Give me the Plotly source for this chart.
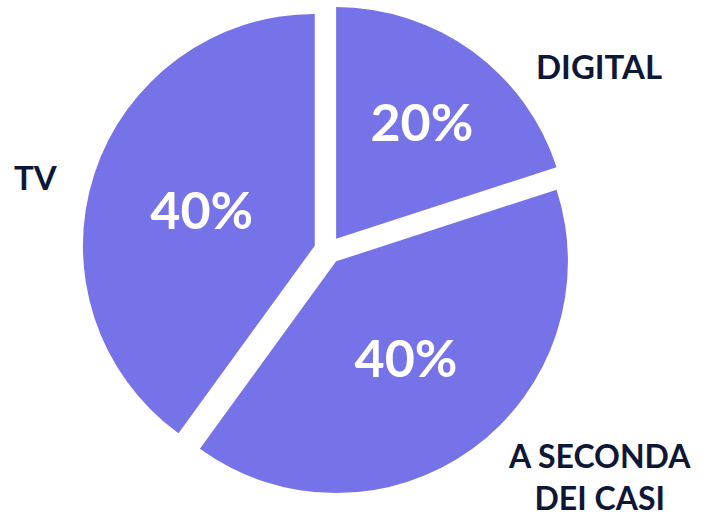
import plotly.graph_objects as go

labels = ["DIGITAL", "A SECONDA<br>DEI CASI", "TV"]
values = [20, 40, 40]
pulls = [0.06, 0.06, 0.06]

slice_color = "#7673E8"
label_color = "#0E1836"

fig = go.Figure(go.Pie(
    labels=labels,
    values=values,
    sort=False,
    direction="clockwise",
    rotation=0,
    pull=pulls,
    marker=dict(colors=[slice_color] * 3, line=dict(color="white", width=0)),
    textinfo="percent",
    texttemplate="%{percent:.0%}",
    textposition="inside",
    insidetextorientation="horizontal",
    textfont=dict(family="Lato", size=52, color="white", weight=700),
    domain=dict(x=[0.117, 0.816], y=[0.048, 0.992]),
    showlegend=False,
    hoverinfo="skip",
))

label_pos = [(0.852, 0.873), (0.853, 0.085), (0.051, 0.660)]
label_sizes = [33, 32, 33]
for lab, (x, y), sz in zip(labels, label_pos, label_sizes):
    fig.add_annotation(
        text=lab, x=x, y=y, xref="paper", yref="paper",
        showarrow=False, xanchor="center", yanchor="middle",
        font=dict(family="Lato", size=sz, color=label_color, weight=700),
        align="center",
    )

fig.update_layout(
    width=703, height=521,
    margin=dict(l=0, r=0, t=0, b=0),
    paper_bgcolor="white",
    plot_bgcolor="white",
)

fig.write_html("out.html")
